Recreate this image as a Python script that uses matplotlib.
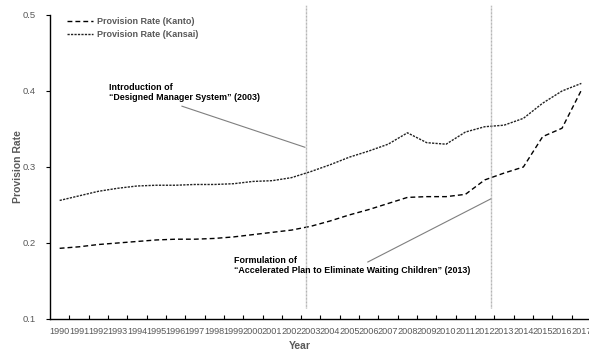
import matplotlib.pyplot as plt
import numpy as np

plt.rcParams['font.family'] = ['Liberation Sans', 'DejaVu Sans']

years = [str(y) for y in range(1990, 2018)]
kanto = [0.193, 0.195, 0.198, 0.200, 0.202, 0.204, 0.205, 0.205, 0.206, 0.208,
         0.211, 0.214, 0.217, 0.222, 0.229, 0.237, 0.244, 0.252, 0.260, 0.261,
         0.261, 0.264, 0.283, 0.292, 0.300, 0.340, 0.351, 0.401]
kansai = [0.256, 0.262, 0.268, 0.272, 0.275, 0.276, 0.276, 0.277, 0.277, 0.278,
          0.281, 0.282, 0.286, 0.294, 0.303, 0.313, 0.321, 0.330, 0.345, 0.332,
          0.330, 0.346, 0.353, 0.355, 0.364, 0.384, 0.400, 0.410]
# event marker lines (category coordinates)
events = [12.73, 22.35]
# leader lines for the two notes: (x0, y0, x1, y1)
leaders = [(6.33, 0.380, 12.69, 0.326), (15.95, 0.175, 22.31, 0.258)]
grey = '#595959'

fig = plt.figure(figsize=(5.89, 3.53), dpi=100)
ax = fig.add_axes([50 / 589, 34 / 353, 541 / 589, 304 / 353])

x = np.arange(len(years))
ax.plot(x, kanto, color='black', lw=1.0, ls=(0, (3.5, 2.2)), label='Provision Rate (Kanto)')
ax.plot(x, kansai, color='#222222', lw=1.0, ls=(0, (1.6, 0.9)), label='Provision Rate (Kansai)')

for ev in events:
    ax.plot([ev, ev], [0.1145, 0.513], color='#a6a6a6', lw=1.0, ls=(0, (0.6, 0.4)), clip_on=False)

for x0, y0, x1, y1 in leaders:
    ax.plot([x0, x1], [y0, y1], color='#7f7f7f', lw=0.8)

ax.set_xlim(-0.5, 27.5)
ax.set_ylim(0.1, 0.5)
ax.set_yticks([0.1, 0.2, 0.3, 0.4, 0.5])
ax.set_yticklabels(['0.1', '0.2', '0.3', '0.4', '0.5'])
ax.set_xticks(x)
ax.set_xticklabels(years)
ax.set_xticks(np.arange(0.5, 27.5, 1), minor=True)
ax.tick_params(axis='x', which='major', length=0, labelsize=6.6, labelcolor=grey, pad=6)
ax.tick_params(axis='x', which='minor', length=3, direction='in', color='black', width=0.8)
ax.tick_params(axis='y', length=3, direction='out', labelsize=6.8, labelcolor=grey, color='black', width=0.8, pad=7)

for s in ['top', 'right']:
    ax.spines[s].set_visible(False)
ax.spines['left'].set_linewidth(1.0)
ax.spines['bottom'].set_linewidth(1.0)

ax.set_ylabel('Provision Rate', fontsize=7.5, fontweight='bold', color=grey)
ax.yaxis.set_label_coords(-27 / 541, 0.5)
ax.set_xlabel('Year', fontsize=7.5, fontweight='bold', color=grey)
ax.xaxis.set_label_coords(250 / 541, -22 / 304)

ax.text(2.53, 0.41, 'Introduction of\n\u201cDesigned Manager System\u201d (2003)',
        fontsize=6.4, fontweight='bold', ha='left', va='top', linespacing=1.1)
ax.text(9.0, 0.183, 'Formulation of\n\u201cAccelerated Plan to Eliminate Waiting Children\u201d (2013)',
        fontsize=6.4, fontweight='bold', ha='left', va='top', linespacing=1.1)

leg = ax.legend(loc='upper left', bbox_to_anchor=(15 / 541, 1.0), frameon=False, fontsize=6.5,
                handlelength=2.8, handletextpad=0.5, labelspacing=0.45, borderaxespad=0,
                borderpad=0.25)
for t in leg.get_texts():
    t.set_color(grey)
    t.set_fontweight('bold')

fig.savefig('out.png', dpi=100)
